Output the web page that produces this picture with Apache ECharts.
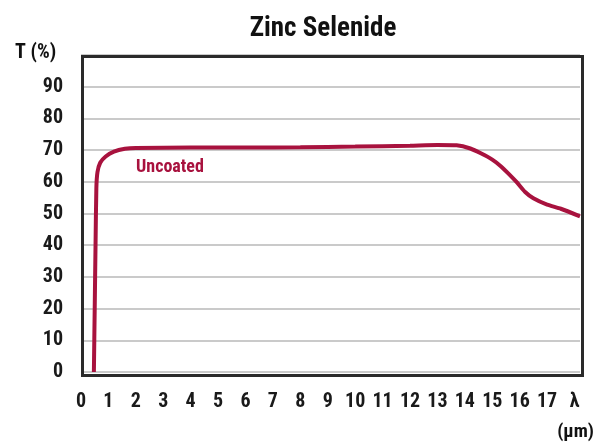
<!DOCTYPE html>
<html>
<head>
<meta charset="utf-8">
<script src="https://cdn.jsdelivr.net/npm/echarts@6/dist/echarts.min.js"></script>
<style>
html,body{margin:0;padding:0;background:#fff;}
#chart{width:597px;height:445px;}
</style>
</head>
<body>
<div id="chart"></div>
<script>
// Data
const titleText = 'Zinc Selenide';
const seriesName = 'Uncoated';
const wavelength = [0.47, 0.50, 0.53, 0.56, 0.60, 0.70, 0.90, 1.2, 1.6, 2.0, 4, 6, 8, 10, 12, 13, 13.7, 14.2, 14.6, 15.0, 15.3, 15.6, 15.9, 16.2, 16.5, 17.0, 17.5, 18.2];
const transmission = [0, 20, 40, 58, 63, 66, 68, 69.5, 70.4, 70.7, 70.8, 70.8, 70.9, 71.1, 71.4, 71.6, 71.5, 70.5, 68.9, 67, 65, 62.5, 59.8, 56.8, 54.8, 52.8, 51.5, 49.1];
const xTickLabels = ['0','1','2','3','4','5','6','7','8','9','10','11','12','13','14','15','16','17','λ'];
const yTickLabels = ['0','10','20','30','40','50','60','70','80','90'];

const FONT = '"Roboto Condensed", "Liberation Sans Narrow", sans-serif';
const RED = '#a8123e';
const chart = echarts.init(document.getElementById('chart'));
chart.setOption({
  animation: false,
  backgroundColor: '#fff',
  title: {
    text: titleText, left: 318, top: 11, textAlign: 'center',
    textStyle: {fontFamily: FONT, fontWeight: 'bold', fontSize: 27, color: '#111'}
  },
  grid: {left: 81, right: 17, top: 55, bottom: 73, show: false},
  xAxis: {
    type: 'value', min: 0, max: 18.2, interval: 1,
    axisLine: {show: false}, axisTick: {show: false}, splitLine: {show: false},
    axisLabel: {
      margin: 20, fontFamily: FONT, fontWeight: 'bold', fontSize: 20, color: '#1a1a1a',
      showMaxLabel: false,
      formatter: v => (Math.abs(v - Math.round(v)) < 1e-6 && xTickLabels[Math.round(v)] !== undefined) ? xTickLabels[Math.round(v)] : ''
    }
  },
  yAxis: {
    type: 'value', min: 0, max: 100, interval: 10,
    axisLine: {show: false}, axisTick: {show: false},
    splitLine: {show: true, lineStyle: {color: '#b8b8b8', width: 1.5}},
    axisLabel: {
      margin: 18, fontFamily: FONT, fontWeight: 'bold', fontSize: 20, color: '#1a1a1a',
      formatter: v => { const i = Math.round(v / 10); return yTickLabels[i] !== undefined ? yTickLabels[i] : ''; }
    }
  },
  series: [{
    name: seriesName, type: 'line', showSymbol: false, smooth: 0.2,
    lineStyle: {color: RED, width: 4},
    data: wavelength.map((x, i) => [x, transmission[i]])
  }],
  graphic: [
    {type: 'rect', left: 80, top: 54, z: 100, shape: {width: 500, height: 319}, style: {fill: 'none', stroke: '#2a2a2a', lineWidth: 3}},
    {type: 'text', left: 15, top: 43, style: {text: 'T (%)', fontFamily: FONT, fontWeight: 'bold', fontSize: 20, fill: '#111'}},
    {type: 'text', right: 3, top: 423, style: {text: '(μm)', fontFamily: FONT, fontWeight: 'bold', fontSize: 19, fill: '#111'}},
    {type: 'text', left: 136, top: 158, style: {text: seriesName, fontFamily: FONT, fontWeight: 'bold', fontSize: 18, fill: RED}}
  ]
});
</script>
</body>
</html>
